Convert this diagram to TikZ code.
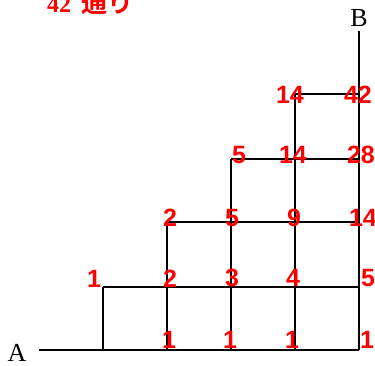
\documentclass[tikz,border=0pt]{standalone}
\usepackage{fontspec}
\setmainfont{Liberation Serif}
\newfontfamily\numfont{Liberation Sans}
\newfontfamily\titlenum{Liberation Serif}[UprightFont={* Bold}]
\newfontfamily\cjkfont{Noto Sans CJK JP}[UprightFont={* Bold}]
\begin{document}
\begin{tikzpicture}[x=1pt,y=-1pt,
  grid/.style={line width=1.7pt,black},
  num/.style={text=red,font=\numfont\bfseries\fontsize{25}{25}\selectfont,inner sep=0pt,anchor=center},
  ptlabel/.style={font=\fontsize{26}{26}\selectfont,inner sep=0pt,anchor=center}]
\useasboundingbox (0,0) rectangle (375,365);
% grid points
\coordinate (s) at (39,350);
\foreach \i/\x in {1/103,2/167,3/231,4/295,5/359}{
  \foreach \j/\y in {0/350,1/287,2/222,3/159,4/94}{
    \coordinate (p\i\j) at (\x,\y);
  }
}
\coordinate (top) at (359,31);
% lines
\draw[grid] (s) -- (p50);
\draw[grid] (p11) -- (p51);
\draw[grid] (p22) -- (p52);
\draw[grid] (p33) -- (p53);
\draw[grid] (p44) -- (p54);
\draw[grid] (p10) -- (p11);
\draw[grid] (p20) -- (p22);
\draw[grid] (p30) -- (p33);
\draw[grid] (p40) -- (p44);
\draw[grid] (p50) -- (top);
% end labels
\node[ptlabel] (A) at (17,353) {A};
\node[ptlabel] (B) at (359,18) {B};
% title
\node[anchor=base west,inner sep=0pt,text=red,font=\fontsize{24}{24}\selectfont] (title) at (47,12) {\titlenum 42\hspace{10pt}{\cjkfont\fontsize{26}{26}\selectfont 通り}};
% numbers
\node[num] (n20) at (169,340) {1};
\node[num] (n30) at (230,340) {1};
\node[num] (n40) at (292,340) {1};
\node[num] (n50) at (367,340) {1};
\node[num] (n11) at (94,279) {1};
\node[num] (n21) at (170,279) {2};
\node[num] (n31) at (232,278) {3};
\node[num] (n41) at (293,278) {4};
\node[num] (n51) at (368,278) {5};
\node[num] (n22) at (170,218) {2};
\node[num] (n32) at (232,218) {5};
\node[num] (n42) at (294,218) {9};
\node[num] (n52) at (363,218) {14};
\node[num] (n33) at (239,155) {5};
\node[num] (n43) at (293,155) {14};
\node[num] (n53) at (361,155) {28};
\node[num] (n44) at (290,95) {14};
\node[num] (n54) at (358,95) {42};
\end{tikzpicture}
\end{document}
